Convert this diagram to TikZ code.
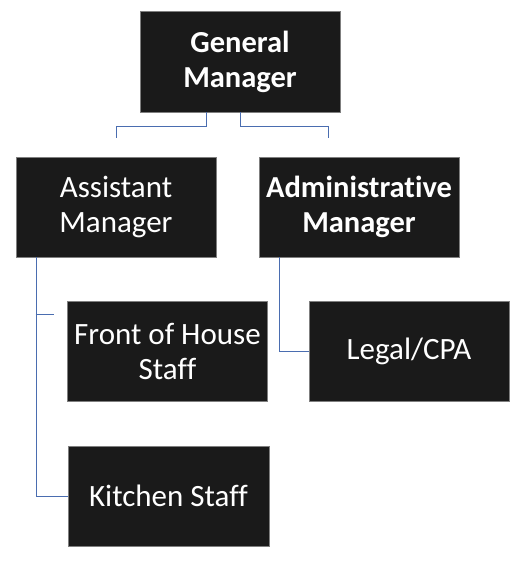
\documentclass[tikz,border=0pt]{standalone}
\usepackage{fontspec}
\setmainfont[Ligatures=CommonOff]{Carlito}
\usetikzlibrary{calc}
\definecolor{boxfill}{HTML}{1A1A1A}
\definecolor{boxedge}{HTML}{7F7F7F}
\definecolor{linkblue}{HTML}{4A6DB0}
\begin{document}
\begin{tikzpicture}[x=1pt,y=-1pt,
  orgbox/.style={fill=boxfill,draw=boxedge,line width=0.8pt,text=white,
    minimum height=100pt,inner sep=0pt,align=center,
    font=\fontsize{31}{35}\selectfont},
  link/.style={draw=linkblue,line width=1pt}]
\useasboundingbox (0,0) rectangle (531,569);
\node[orgbox,minimum width=200pt,minimum height=101pt,font=\fontsize{30.5}{35}\selectfont\bfseries] (gm) at (240,61.5) {General\\Manager};
\node[orgbox,minimum width=200pt] (asst) at (116,207) {Assistant\\Manager};
\node[orgbox,minimum width=200pt,font=\fontsize{30.5}{35}\selectfont\bfseries] (admin) at (359,207) {Administrative\\Manager};
\node[orgbox,minimum width=200pt] (foh) at (167.5,351) {Front of House\\Staff};
\node[orgbox,minimum width=200pt] (legal) at (409,351) {Legal/CPA};
\node[orgbox,minimum width=201pt] (kitchen) at (168.5,496) {Kitchen Staff};
\draw[link] ([xshift=-34pt]gm.south) -- ++(0,14) -| ([yshift=19pt]asst.north);
\draw[link] (gm.south) -- ++(0,14) -| ([xshift=-31pt,yshift=19pt]admin.north);
\draw[link] ([xshift=-80pt]asst.south) |- (kitchen.west);
\draw[link] ($(foh.west)+(-31.5,-37)$) -- ++(18.5,0);
\draw[link] ([xshift=-80pt]admin.south) |- (legal.west);
\end{tikzpicture}
\end{document}
